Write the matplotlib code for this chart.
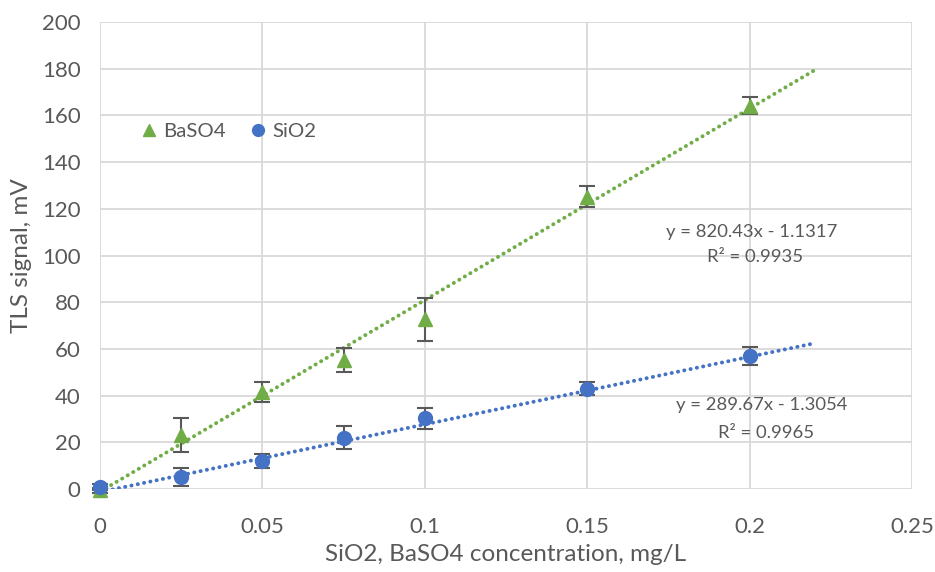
import numpy as np
import matplotlib.pyplot as plt

plt.rcParams['font.family'] = ['Lato', 'DejaVu Sans']

# BaSO4 series
x_baso4 = [0, 0.025, 0.05, 0.075, 0.1, 0.15, 0.2]
y_baso4 = [-0.5, 23.3, 41.5, 55.2, 72.6, 125.2, 164.2]
err_baso4 = [1.0, 7.3, 4.2, 5.2, 9.2, 4.6, 3.8]

# SiO2 series
x_sio2 = [0, 0.025, 0.05, 0.075, 0.1, 0.15, 0.2]
y_sio2 = [0.8, 5.2, 11.8, 22.0, 30.3, 43.0, 57.0]
err_sio2 = [1.2, 3.8, 3.0, 5.0, 4.5, 2.8, 3.8]

# trendline coefficients (as printed on the chart)
k_baso4, b_baso4, r2_baso4 = 820.43, -1.1317, 0.9935
k_sio2, b_sio2, r2_sio2 = 289.67, -1.3054, 0.9965
x_trend_end = 0.22

green = '#70AD47'
blue = '#4472C4'
grey_txt = '#595959'

fig = plt.figure(figsize=(9.35, 5.72), dpi=100)
ax = fig.add_axes([100/935, 1 - 489/572, 812/935, 467/572])

xt = np.array([0, x_trend_end])
ax.plot(xt, k_baso4 * xt + b_baso4, color=green, lw=2.8, ls=(0, (0.05, 1.6)),
        dash_capstyle='round', zorder=2)
ax.plot(xt, k_sio2 * xt + b_sio2, color=blue, lw=2.8, ls=(0, (0.05, 1.6)),
        dash_capstyle='round', zorder=2)

ax.errorbar(x_baso4, y_baso4, yerr=err_baso4, fmt='^', color=green, ms=10,
            ecolor='#595959', elinewidth=1.5, capsize=6, capthick=1.5,
            label='BaSO4', zorder=3, clip_on=False)
ax.errorbar(x_sio2, y_sio2, yerr=err_sio2, fmt='o', color=blue, ms=10,
            ecolor='#595959', elinewidth=1.5, capsize=6, capthick=1.5,
            label='SiO2', zorder=3, clip_on=False)

ax.set_xlim(0, 0.25)
ax.set_ylim(0, 200)
ax.set_xticks(np.arange(0, 0.2501, 0.05))
ax.set_xticklabels(['0', '0.05', '0.1', '0.15', '0.2', '0.25'])
ax.set_yticks(range(0, 201, 20))
ax.grid(True, color='#D9D9D9', lw=1.3)
ax.set_axisbelow(True)
for s in ax.spines.values():
    s.set_visible(False)
ax.tick_params(length=0, labelsize=16, colors=grey_txt)
ax.tick_params(axis='x', pad=20)
ax.tick_params(axis='y', pad=14)

ax.set_xlabel('SiO2, BaSO4 concentration, mg/L', fontsize=17.5, color=grey_txt, labelpad=5)
ax.set_ylabel('TLS signal, mV', fontsize=17.5, color=grey_txt, labelpad=7)

handles, labels = ax.get_legend_handles_labels()
handles = [h[0] for h in handles]
ax.legend(handles, labels, loc='center left', bbox_to_anchor=(0.045, 0.765), ncol=2,
          frameon=False, fontsize=14.7, labelcolor=grey_txt, handletextpad=0.1,
          columnspacing=1.0, handlelength=1.2, markerscale=0.85,
          borderpad=0, borderaxespad=0)

ax.text(0.2005, 110, f'y = {k_baso4}x - {abs(b_baso4)}', ha='center', va='center',
        fontsize=13.3, color=grey_txt)
ax.text(0.2018, 99.5, f'R² = {r2_baso4}', ha='center', va='center',
        fontsize=13.3, color=grey_txt)
ax.text(0.2036, 36, f'y = {k_sio2}x - {abs(b_sio2)}', ha='center', va='center',
        fontsize=13.3, color=grey_txt)
ax.text(0.2050, 24, f'R² = {r2_sio2}', ha='center', va='center',
        fontsize=13.3, color=grey_txt)

fig.savefig('out.png', dpi=100)
